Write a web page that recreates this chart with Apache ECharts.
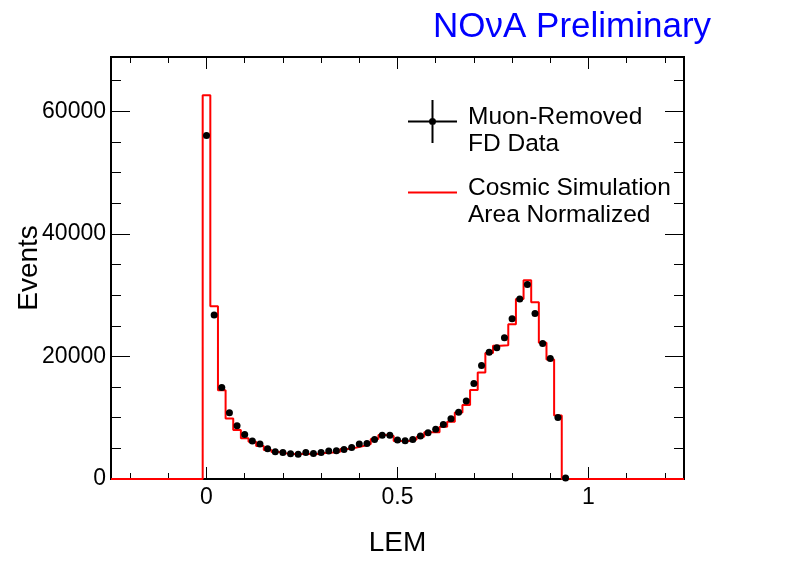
<!DOCTYPE html>
<html>
<head>
<meta charset="utf-8">
<script src="https://cdn.jsdelivr.net/npm/echarts@6/dist/echarts.min.js"></script>
<style>
  html, body { margin: 0; padding: 0; background: #fff; }
  #chart { width: 796px; height: 572px; }
</style>
</head>
<body>
<div id="chart"></div>
<script>
// LEM bin centres (bin width 0.02)
var lemCenters = [0, 0.02, 0.04, 0.06, 0.08, 0.10, 0.12, 0.14, 0.16, 0.18,
    0.20, 0.22, 0.24, 0.26, 0.28, 0.30, 0.32, 0.34, 0.36, 0.38,
    0.40, 0.42, 0.44, 0.46, 0.48, 0.50, 0.52, 0.54, 0.56, 0.58,
    0.60, 0.62, 0.64, 0.66, 0.68, 0.70, 0.72, 0.74, 0.76, 0.78,
    0.80, 0.82, 0.84, 0.86, 0.88, 0.90, 0.92, 0.94];
var binWidth = 0.02;

// muon-removed FD data (points)
var fdData = [56050, 26750, 14950, 10810, 8690, 7280, 6190, 5700, 4950, 4460,
    4340, 4130, 4020, 4340, 4180, 4340, 4560, 4620, 4830, 5160,
    5700, 5810, 6460, 7120, 7120, 6360, 6240, 6460, 7010, 7550,
    8100, 8910, 9830, 10900, 12710, 15590, 18530, 20700, 21400, 23030,
    26130, 29390, 31730, 27000, 22110, 19670, 10050, 150];

// cosmic simulation, area normalized (histogram)
var cosmicSim = [62600, 28200, 14500, 9890, 7990, 6630, 6090, 5380, 4730, 4400,
    4180, 4080, 4080, 4080, 4080, 4240, 4340, 4460, 4890, 5110,
    5380, 5700, 6520, 7170, 7010, 6190, 6190, 6460, 6900, 7610,
    7610, 8530, 9340, 10870, 12060, 14510, 17390, 20540, 21730, 21840,
    25260, 29390, 32440, 28850, 22220, 19510, 10380];

var xMajorTicks = [0, 0.5, 1];
var xMinorTicks = [-0.2, -0.1, 0.1, 0.2, 0.3, 0.4, 0.6, 0.7, 0.8, 0.9, 1.1, 1.2];
var yMajorTicks = [0, 20000, 40000, 60000];
var yMinorTicks = [5000, 10000, 15000, 25000, 30000, 35000, 45000, 50000, 55000, 65000];

var xMin = -0.25, xMax = 1.25, yMax = 68860;
var font = 'Liberation Sans';
var dataName = 'Muon-Removed\nFD Data';
var simName = 'Cosmic Simulation\nArea Normalized';

// histogram outline: start at low edge of each bin, step at the end
var simLine = [[xMin, 0]];
cosmicSim.forEach(function (v, i) {
    simLine.push([lemCenters[i] - binWidth / 2, v]);
});
simLine.push([lemCenters[cosmicSim.length - 1] + binWidth / 2, 0]);
simLine.push([xMax, 0]);

var points = fdData.map(function (v, i) { return [lemCenters[i], v]; });

function xAx(pos, ticks, len, labels) {
    return {
        type: 'value', position: pos, min: xMin, max: xMax,
        axisLine: { show: false, onZero: false },
        splitLine: { show: false },
        axisTick: { show: true, inside: true, length: len, customValues: ticks,
            lineStyle: { color: '#000', width: 1 } },
        axisLabel: labels ? { show: true, customValues: xMajorTicks, margin: 7,
            color: '#000', fontSize: 23, fontFamily: font,
            formatter: function (v) { return String(v); } } : { show: false }
    };
}
function yAx(pos, ticks, len, labels) {
    return {
        type: 'value', position: pos, min: 0, max: yMax,
        axisLine: { show: false, onZero: false },
        splitLine: { show: false },
        axisTick: { show: true, inside: true, length: len, customValues: ticks,
            lineStyle: { color: '#000', width: 1 } },
        axisLabel: labels ? { show: true, customValues: yMajorTicks, margin: 5,
            color: '#000', fontSize: 23, fontFamily: font,
            formatter: function (v) { return String(v); } } : { show: false }
    };
}

var xAxes = [
    xAx('bottom', xMajorTicks, 12, true),
    xAx('bottom', xMinorTicks, 6, false),
    xAx('top', xMajorTicks, 12, false),
    xAx('top', xMinorTicks, 6, false)
];
xAxes[0].name = 'LEM';
xAxes[0].nameLocation = 'middle';
xAxes[0].nameGap = 50;
xAxes[0].nameMoveOverlap = false;
xAxes[0].nameTextStyle = { color: '#000', fontSize: 28, fontFamily: font };

var yAxes = [
    yAx('left', yMajorTicks, 19, true),
    yAx('left', yMinorTicks, 10, false),
    yAx('right', yMajorTicks, 19, false),
    yAx('right', yMinorTicks, 10, false)
];
yAxes[0].name = 'Events';
yAxes[0].nameLocation = 'middle';
yAxes[0].nameGap = 68;
yAxes[0].nameMoveOverlap = false;
yAxes[0].nameTextStyle = { color: '#000', fontSize: 28, fontFamily: font };

// icons are 49x61: the visible part sits in the top 43 px so the
// two-line text ends up a little below the marker, as in ROOT
function legendAt(top, name, icon) {
    return {
        orient: 'vertical', left: 408, top: top, padding: 0,
        itemWidth: 49, itemHeight: 61, selectedMode: false,
        itemStyle: { borderWidth: 0, opacity: 1 },
        lineStyle: { width: 0 },
        textStyle: { color: '#000', fontSize: 24.5, fontFamily: font, lineHeight: 27,
            padding: [0, 0, 0, 6] },
        data: [{ name: name, icon: icon }]
    };
}

var option = {
    animation: false,
    backgroundColor: '#fff',
    title: {
        text: 'NOνA Preliminary', left: 428, top: 5,
        textStyle: { color: '#0000ff', fontSize: 35, fontWeight: 'normal', fontFamily: font }
    },
    grid: {
        left: 111, right: 112, top: 57, bottom: 93,
        show: true, borderColor: '#000', borderWidth: 2, backgroundColor: 'transparent',
        outerBoundsMode: 'none', containLabel: false
    },
    legend: [
        legendAt(100, dataName, 'path://M0,20.5h49v2h-49z M23.5,0h2v43h-2z M21,21.5a3.5,3.5 0 1,1 7,0a3.5,3.5 0 1,1 -7,0z M0,61h0.01v-0.01h-0.01z'),
        legendAt(171, simName, 'path://M0,20.5h49v2h-49z M0,0h0.01v0.01h-0.01z M0,61h0.01v-0.01h-0.01z')
    ],
    xAxis: xAxes,
    yAxis: yAxes,
    series: [
        {
            name: simName, type: 'line', step: 'end',
            data: simLine, symbol: 'none', z: 2,
            itemStyle: { color: '#ff0000', opacity: 1 },
            lineStyle: { color: '#ff0000', width: 2 }
        },
        {
            name: dataName, type: 'scatter',
            data: points, symbol: 'circle', symbolSize: 7, z: 3,
            itemStyle: { color: '#000', opacity: 1 }
        }
    ]
};

echarts.init(document.getElementById('chart')).setOption(option);
</script>
</body>
</html>
